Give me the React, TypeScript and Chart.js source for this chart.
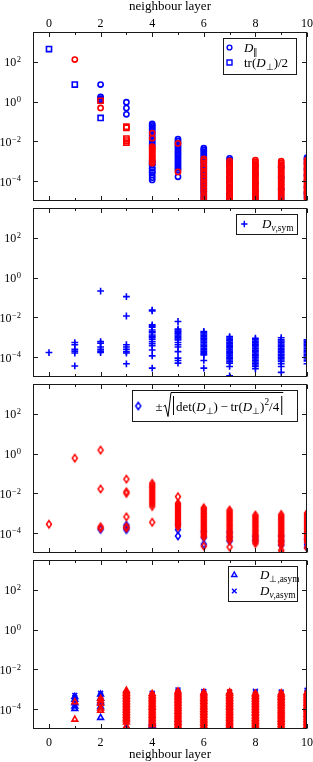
import React, { useEffect, useRef } from 'react';
import { Chart, registerables } from 'chart.js';

Chart.register(...registerables);

const W = 313;
const H = 762;
const FONT = '"Liberation Serif", "Times New Roman", serif';
const BLUE = '#0000ff';
const RED = '#ff0000';
const FRAME = '#1a1a1a';

// ---------- axes ----------
const LAYERS = [0, 1, 2, 3, 4, 5, 6, 7, 8, 9, 10];
const X_TICKS = [0, 1, 2, 3, 4, 5, 6, 7, 8, 9, 10];
const X_TICK_LABELS = ['0', '', '2', '', '4', '', '6', '', '8', '', '10'];
const Y_TICKS = [1e-4, 1e-2, 1, 1e2];
const Y_TICK_EXP = ['\u22124', '\u22122', '0', '2'];
const AXIS_TITLE = 'neighbour layer';
const X_MIN = -0.62;
const X_MAX = 10;
const Y_MIN = 1e-5;
const Y_MAX = 3162;

// ---------- panel 1: D_par (circles) and tr(D_perp)/2 (squares) ----------
const dParBlue: number[][] = [
  [],
  [],
  [7.2, 1.7, 1.4],
  [0.93, 0.47, 0.23],
  [7.6e-2, 6.4e-2, 5.5e-2, 4.5e-2, 3.7e-2, 3.0e-2, 2.4e-2, 1.9e-2, 1.5e-2, 1.2e-2, 9.5e-3, 7.4e-3, 5.8e-3, 6.5e-4, 4.4e-4, 2.8e-4, 2.0e-4, 1.5e-4, 1.15e-4],
  [1.3e-2, 1.05e-2, 8.4e-3, 6.6e-3, 5.3e-3, 4.3e-3, 3.4e-3, 2.7e-3, 2.2e-3, 1.75e-3, 1.4e-3, 1.1e-3, 8.8e-4, 7e-4, 5.6e-4, 4.5e-4, 3.6e-4, 1.65e-4],
  [4.5e-3, 3.7e-3, 3.0e-3, 2.4e-3, 1.9e-3, 1.5e-3, 1.2e-3, 9.6e-4, 7.7e-4, 6.1e-4, 4.9e-4, 3.9e-4, 3.1e-4, 2.5e-4, 2e-4, 1.6e-4, 1.25e-4, 1e-4, 8e-5, 6.3e-5, 5e-5, 4e-5, 3.2e-5, 2.5e-5, 1.8e-5, 1.3e-5],
  [1.4e-3, 1.15e-3, 9e-4, 5.5e-4, 3e-4, 1.6e-4, 8.5e-5, 4.5e-5, 2.4e-5, 1.8e-5, 1.2e-5],
  [6e-4, 2.4e-4, 8e-5, 3.2e-5, 1.6e-5, 1.1e-5],
  [5e-4, 1.5e-4, 4e-5, 1.35e-5],
  [1.5e-3, 1.25e-3, 8e-4, 4e-4, 2e-4, 1e-4, 5e-5, 2.6e-5, 2e-5, 1.4e-5],
];
const dParRed: number[][] = [
  [],
  [130],
  [0.48],
  [],
  [2.6e-2, 1.45e-2, 5.4e-3, 4.6e-3, 3.9e-3, 3.3e-3, 2.8e-3, 2.3e-3, 1.95e-3, 1.65e-3, 1.4e-3, 1.15e-3, 9.5e-4, 8e-4],
  [7.9e-3, 2.9e-4],
  [1.3e-3, 1.05e-3, 8e-4, 5.6e-4, 4.3e-4, 3.1e-4, 2.3e-4, 1.6e-4, 1.2e-4, 8.5e-5, 6.2e-5, 4.3e-5, 3.1e-5, 2.1e-5, 1.5e-5, 1.05e-5],
  [1.05e-3, 8.8e-4, 7.2e-4, 5.9e-4, 4.8e-4, 3.9e-4, 3.2e-4, 2.6e-4, 2.1e-4, 1.7e-4, 1.4e-4, 1.15e-4, 9.2e-5, 7.5e-5, 6.1e-5, 5e-5, 4e-5, 3.3e-5, 2.7e-5, 2.2e-5, 1.8e-5, 1.45e-5, 1.2e-5],
  [1.15e-3, 9.5e-4, 7.7e-4, 6.3e-4, 5.1e-4, 4.2e-4, 3.4e-4, 2.8e-4, 2.2e-4, 1.8e-4, 1.5e-4, 1.2e-4, 9.8e-5, 8e-5, 6.5e-5, 5.3e-5, 4.3e-5, 3.5e-5, 2.8e-5, 2.3e-5, 1.9e-5, 1.5e-5, 1.2e-5],
  [1e-3, 8.2e-4, 6.7e-4, 5.5e-4, 4.4e-4, 3.6e-4, 2.9e-4, 2.4e-4, 1.95e-4, 1.6e-4, 1.3e-4, 1.05e-4, 8.6e-5, 7e-5, 5.7e-5, 4.6e-5, 3.7e-5, 3e-5, 2.5e-5, 2e-5, 1.65e-5, 1.1e-5],
  [1.15e-3, 9.3e-4, 7.6e-4, 6.2e-4, 5e-4, 4.1e-4, 3.3e-4, 2.7e-4, 2.2e-4, 1.8e-4, 1.45e-4, 1.2e-4, 9.6e-5, 7.8e-5, 6.3e-5, 5.1e-5, 4.2e-5, 3.4e-5, 2.8e-5, 2.3e-5, 1.6e-5, 1.05e-5],
];
const trBlue: number[][] = [
  [440],
  [7.2],
  [1.2, 0.15],
  [],
  [8.5e-4, 3.5e-4],
  [], [], [], [], [], [],
];
const trRed: number[][] = [
  [],
  [],
  [1.1],
  [5.5e-2, 4.8e-2, 1.38e-2, 1.1e-2, 8.7e-3],
  [], [], [], [], [], [], [],
];

// ---------- panel 2: D_v,sym (plus) ----------
const dVSymBlue: number[][] = [
  [1.7e-4],
  [5.4e-4, 4.2e-4, 2.5e-4, 2.0e-4, 1.6e-4, 3.6e-5],
  [0.21, 6e-4, 5e-4, 3.2e-4, 2.5e-4, 2.0e-4, 1.7e-4],
  [0.11, 1.17e-2, 4.2e-4, 3.2e-4, 2.5e-4, 1.9e-4, 1.6e-4, 4.6e-5],
  [2.3e-2, 2.1e-2, 4.2e-3, 3.6e-3, 3.2e-3, 2.3e-3, 1.9e-3, 1.7e-3, 1.3e-3, 1.1e-3, 1e-3, 8e-4, 6e-4, 4.7e-4, 3.7e-4, 2.3e-4, 1.15e-4, 2.8e-5],
  [6.2e-3, 2.6e-3, 2.3e-3, 2.0e-3, 1.75e-3, 1.5e-3, 1.3e-3, 1.1e-3, 9.5e-4, 8.2e-4, 7.2e-4, 5.4e-4, 4.2e-4, 3.2e-4, 1.9e-4, 8.9e-5, 6.8e-5, 5e-5],
  [1.95e-3, 1.7e-3, 1.45e-3, 1.25e-3, 1.05e-3, 9e-4, 7.6e-4, 6.5e-4, 5.5e-4, 4.6e-4, 3.9e-4, 3.3e-4, 2.8e-4, 2.35e-4, 2e-4, 1.7e-4, 1.45e-4, 1.28e-4, 6.8e-5, 2.8e-5],
  [1.07e-3, 9.2e-4, 7.8e-4, 6.6e-4, 5.6e-4, 4.7e-4, 4e-4, 3.4e-4, 2.9e-4, 2.4e-4, 2e-4, 1.7e-4, 1.45e-4, 1.2e-4, 1e-4, 8.6e-5, 7.2e-5, 6e-5, 5e-5, 3.4e-5, 1.15e-5],
  [8.9e-4, 7.5e-4, 6.3e-4, 5.3e-4, 4.5e-4, 3.8e-4, 3.2e-4, 2.7e-4, 2.25e-4, 1.9e-4, 1.6e-4, 1.35e-4, 1.15e-4, 9.6e-5, 8.1e-5, 6.8e-5, 5.7e-5, 4.8e-5, 4e-5, 3.4e-5, 2.6e-5],
  [9.5e-4, 7.5e-4, 6.5e-4, 5.5e-4, 4.6e-4, 3.9e-4, 3.3e-4, 2.8e-4, 2.35e-4, 2e-4, 1.65e-4, 1.4e-4, 1.2e-4, 1e-4, 8.5e-5, 7.2e-5, 6e-5, 4.6e-5, 3.4e-5, 1.7e-5],
  [7.4e-4, 6.3e-4, 5.3e-4, 4.5e-4, 3.8e-4, 3.2e-4, 2.7e-4, 2.25e-4, 1.9e-4, 1.6e-4, 1.35e-4, 1.15e-4, 9.6e-5, 8e-5, 6.5e-5, 4.6e-5],
];

// ---------- panel 3: ±sqrt|det - tr^2/4| (diamonds) ----------
const detBlue: number[][] = [
  [],
  [],
  [1.55e-4],
  [2.5e-4, 1.9e-4, 1.5e-4],
  [],
  [2.8e-4, 1.5e-4, 7.2e-5],
  [1.2e-4, 6e-5, 2.75e-5],
  [1.1e-4, 6.5e-5, 4e-5],
  [7e-5, 4.4e-5],
  [7.2e-5, 4e-5, 2.5e-5],
  [5e-5, 2.7e-5, 1.9e-5],
];
const detRed: number[][] = [
  [2.8e-4],
  [0.59],
  [1.5, 1.66e-2, 2.1e-4, 1.75e-4],
  [5.2e-2, 1.2e-2, 1e-2, 6.6e-4, 2.1e-4, 1.8e-4],
  [3.2e-2, 2.6e-2, 2.1e-2, 1.7e-2, 1.35e-2, 1.1e-2, 8.8e-3, 7e-3, 5.6e-3, 4.5e-3, 3.6e-3, 2.9e-3, 2.2e-3, 3.5e-4],
  [6.8e-3, 3.2e-3, 2.7e-3, 2.3e-3, 1.9e-3, 1.6e-3, 1.35e-3, 1.1e-3, 9.3e-4, 7.8e-4, 6.5e-4, 5.4e-4, 4.5e-4, 3.8e-4, 3.2e-4, 2.6e-4, 2.1e-4],
  [1.9e-3, 1.6e-3, 1.35e-3, 1.1e-3, 9.3e-4, 7.8e-4, 6.5e-4, 5.4e-4, 4.5e-4, 3.8e-4, 3.2e-4, 2.6e-4, 2.2e-4, 1.85e-4, 1.55e-4, 1.3e-4, 1.1e-4, 9e-5, 7.5e-5, 6.5e-5, 2.2e-5],
  [1.45e-3, 1.2e-3, 1e-3, 8.5e-4, 7.1e-4, 5.9e-4, 4.9e-4, 4.1e-4, 3.4e-4, 2.8e-4, 2.35e-4, 1.95e-4, 1.6e-4, 1.35e-4, 1.1e-4, 9.3e-5, 7.7e-5, 6.4e-5, 5.3e-5, 4.5e-5, 2e-5],
  [8.1e-4, 6.8e-4, 5.7e-4, 4.7e-4, 3.9e-4, 3.3e-4, 2.7e-4, 2.25e-4, 1.9e-4, 1.55e-4, 1.3e-4, 1.1e-4, 9e-5, 7.5e-5, 6.2e-5, 5.2e-5, 4.3e-5, 3.6e-5, 3e-5],
  [8.7e-4, 7.2e-4, 6e-4, 5e-4, 4.2e-4, 3.5e-4, 2.9e-4, 2.4e-4, 2e-4, 1.65e-4, 1.4e-4, 1.15e-4, 9.6e-5, 8e-5, 6.6e-5, 5.5e-5, 4.6e-5, 3.8e-5, 3.2e-5, 2.5e-5, 1.4e-5, 1.05e-5],
  [1e-3, 8.4e-4, 7e-4, 5.8e-4, 4.8e-4, 4e-4, 3.3e-4, 2.75e-4, 2.3e-4, 1.9e-4, 1.6e-4, 1.3e-4, 1.1e-4, 9e-5, 7.5e-5, 6.2e-5, 5.2e-5, 4.3e-5, 3.6e-5, 1.85e-5],
];

// ---------- panel 4: D_perp,asym (triangles) and D_v,asym (x) ----------
const perpAsymBlue: number[][] = [
  [],
  [4.2e-4, 3e-4, 2e-4, 1.4e-4, 1.05e-4],
  [5.5e-4, 3.5e-4, 2.2e-4, 1.3e-4, 3.7e-5],
  [1.2e-5],
  [2e-5, 1.5e-5],
  [1.1e-5],
  [1.2e-5],
  [],
  [1.1e-5],
  [],
  [1.3e-5],
];
const vAsymBlue: number[][] = [
  [],
  [4.9e-4, 3.8e-4, 2.6e-4, 1.5e-4],
  [6.3e-4, 5e-4, 4e-4, 2.6e-4, 1.6e-4, 1.2e-4],
  [6.5e-4, 5.4e-4, 3.3e-4, 2.4e-4],
  [6.3e-4, 5e-4, 1e-4, 2.4e-5],
  [9.3e-4, 7.6e-4, 6e-4, 4e-4, 1e-4, 2e-5, 1.1e-5],
  [7.8e-4, 6.5e-4, 4e-4, 8e-5, 1.3e-5],
  [6.8e-4, 3e-4, 4e-5, 1.2e-5],
  [8e-4, 6.5e-4, 3e-4, 6e-5, 1.2e-5],
  [7.2e-4, 5e-4, 1.5e-4, 1.5e-5],
  [9e-4, 7.2e-4, 4e-4, 9e-5, 1.6e-5],
];
const perpAsymRed: number[][] = [
  [],
  [2.3e-4, 3e-5],
  [3.4e-4, 2.6e-4, 1.9e-4, 1.1e-4, 8.5e-5],
  [8.7e-4, 7.3e-4, 6.1e-4, 5.1e-4, 4.3e-4, 3.6e-4, 3e-4, 2.5e-4, 2.1e-4, 1.75e-4, 1.45e-4, 1.2e-4, 1e-4, 8.5e-5, 7e-5, 5.8e-5, 4.8e-5, 4e-5, 3.3e-5, 2.8e-5, 2.2e-5, 1.35e-5],
  [6e-4, 5e-4, 4.2e-4, 3.5e-4, 2.9e-4, 2.45e-4, 2e-4, 1.7e-4, 1.4e-4, 1.2e-4, 1e-4, 8.2e-5, 6.9e-5, 5.7e-5, 4.8e-5, 4e-5, 3.3e-5, 2.8e-5, 2.3e-5, 1.9e-5, 1.6e-5],
  [8e-4, 6.7e-4, 5.6e-4, 4.6e-4, 3.9e-4, 3.2e-4, 2.7e-4, 2.25e-4, 1.9e-4, 1.55e-4, 1.3e-4, 1.1e-4, 9e-5, 7.5e-5, 6.3e-5, 5.2e-5, 4.4e-5, 3.6e-5, 3e-5, 2.5e-5, 2.1e-5, 1.75e-5, 1.45e-5, 1.2e-5],
  [7e-4, 5.9e-4, 4.9e-4, 4.1e-4, 3.4e-4, 2.85e-4, 2.4e-4, 2e-4, 1.65e-4, 1.4e-4, 1.15e-4, 9.6e-5, 8e-5, 6.7e-5, 5.6e-5, 4.7e-5, 3.9e-5, 3.2e-5, 2.7e-5, 2.25e-5, 1.9e-5, 1.55e-5, 1.3e-5, 1.05e-5],
  [7.2e-4, 6e-4, 5e-4, 4.2e-4, 3.5e-4, 2.9e-4, 2.4e-4, 2e-4, 1.7e-4, 1.4e-4, 1.2e-4, 1e-4, 8.3e-5, 6.9e-5, 5.8e-5, 4.8e-5, 4e-5, 3.4e-5, 2.8e-5, 2.3e-5, 1.95e-5, 1.6e-5, 1.35e-5, 1.1e-5],
  [6.2e-4, 5.2e-4, 4.3e-4, 3.6e-4, 3e-4, 2.5e-4, 2.1e-4, 1.75e-4, 1.45e-4, 1.2e-4, 1e-4, 8.5e-5, 7e-5, 5.9e-5, 4.9e-5, 4.1e-5, 3.4e-5, 2.9e-5, 2.4e-5, 2e-5, 1.65e-5, 1.4e-5, 1.15e-5],
  [6.5e-4, 5.4e-4, 4.5e-4, 3.8e-4, 3.2e-4, 2.6e-4, 2.2e-4, 1.85e-4, 1.55e-4, 1.3e-4, 1.05e-4, 8.8e-5, 7.4e-5, 6.2e-5, 5.1e-5, 4.3e-5, 3.6e-5, 3e-5, 2.5e-5, 2.1e-5, 1.7e-5, 1.4e-5, 1.1e-5],
  [6.8e-4, 5.7e-4, 4.7e-4, 3.9e-4, 3.3e-4, 2.75e-4, 2.3e-4, 1.9e-4, 1.6e-4, 1.35e-4, 1.1e-4, 9.2e-5, 7.7e-5, 6.4e-5, 5.4e-5, 4.5e-5, 3.7e-5, 3.1e-5, 2.6e-5, 2.2e-5, 1.8e-5, 1.5e-5, 1.2e-5],
];
const vAsymRed: number[][] = [
  [],
  [],
  [3e-4],
  [6.2e-4, 2.3e-4, 7.5e-5, 2.5e-5],
  [5.3e-4, 1.8e-4, 6e-5, 2e-5],
  [7e-4, 2.4e-4, 8e-5, 2.6e-5],
  [6e-4, 2e-4, 7e-5, 2.3e-5],
  [7.5e-4, 2.6e-4, 9e-5, 3e-5],
  [5.5e-4, 1.9e-4, 6.5e-5, 2.1e-5],
  [6e-4, 2.1e-4, 7e-5, 2.3e-5],
  [6.2e-4, 2.2e-4, 7.5e-5, 2.5e-5],
];

// ---------- helpers ----------
function toPoints(cols: number[][]) {
  return cols.flatMap((vals, i) => vals.map((v) => ({ x: LAYERS[i], y: v })));
}

const MARK_LW = 1.6;

const diamondCache: Record<string, HTMLCanvasElement> = {};
function diamondImage(color: string): HTMLCanvasElement {
  if (diamondCache[color]) return diamondCache[color];
  const c = document.createElement('canvas');
  c.width = 10;
  c.height = 12;
  const g = c.getContext('2d')!;
  g.strokeStyle = color;
  g.lineWidth = 1.5;
  g.beginPath();
  g.moveTo(5, 2.4);
  g.lineTo(7.5, 6);
  g.lineTo(5, 9.6);
  g.lineTo(2.5, 6);
  g.closePath();
  g.stroke();
  diamondCache[color] = c;
  return c;
}

type MarkerKind = 'circle' | 'rect' | 'cross' | 'crossRot' | 'triangle' | 'diamond';

function styleFor(kind: MarkerKind, color: string): any {
  switch (kind) {
    case 'circle':
      return { pointStyle: 'circle', pointRadius: 2.6 };
    case 'rect':
      return { pointStyle: 'rect', pointRadius: 3.6 };
    case 'cross':
      return { pointStyle: 'cross', pointRadius: 3.4 };
    case 'crossRot':
      return { pointStyle: 'crossRot', pointRadius: 3.4 };
    case 'triangle':
      return { pointStyle: 'triangle', pointRadius: 3.3 };
    case 'diamond':
      return { pointStyle: diamondImage(color), pointRadius: 4 };
  }
}

function drawMarker(ctx: CanvasRenderingContext2D, kind: MarkerKind, x: number, y: number, color: string) {
  if (kind === 'diamond') {
    const img = diamondImage(color);
    ctx.drawImage(img, x - img.width / 2, y - img.height / 2);
    return;
  }
  ctx.save();
  ctx.strokeStyle = color;
  ctx.lineWidth = 1.4;
  ctx.beginPath();
  if (kind === 'circle') ctx.arc(x, y, 2.4, 0, Math.PI * 2);
  else if (kind === 'rect') ctx.rect(x - 2.5, y - 2.5, 5, 5);
  else if (kind === 'cross') {
    ctx.moveTo(x - 3.2, y);
    ctx.lineTo(x + 3.2, y);
    ctx.moveTo(x, y - 3.2);
    ctx.lineTo(x, y + 3.2);
  } else if (kind === 'crossRot') {
    const d = 2.3;
    ctx.moveTo(x - d, y - d);
    ctx.lineTo(x + d, y + d);
    ctx.moveTo(x + d, y - d);
    ctx.lineTo(x - d, y + d);
  } else if (kind === 'triangle') {
    const r = 3;
    ctx.moveTo(x, y - r);
    ctx.lineTo(x + r * Math.sin((2 * Math.PI) / 3), y - r * Math.cos((2 * Math.PI) / 3));
    ctx.lineTo(x + r * Math.sin((4 * Math.PI) / 3), y - r * Math.cos((4 * Math.PI) / 3));
    ctx.closePath();
  }
  ctx.stroke();
  ctx.restore();
}

type Seg = { t: string; it?: boolean; sub?: boolean; sup?: boolean };
const LEG_SIZE = 13;
function segFont(s: Seg, size: number) {
  const fs = s.sub || s.sup ? size * 0.72 : size;
  return `${s.it ? 'italic ' : ''}${fs}px ${FONT}`;
}
function richWidth(ctx: CanvasRenderingContext2D, segs: Seg[], size = LEG_SIZE) {
  let w = 0;
  for (const s of segs) {
    ctx.font = segFont(s, size);
    w += ctx.measureText(s.t).width;
  }
  return w;
}
function drawRich(ctx: CanvasRenderingContext2D, x: number, y: number, segs: Seg[], size = LEG_SIZE) {
  let cx = x;
  ctx.textAlign = 'left';
  ctx.textBaseline = 'alphabetic';
  for (const s of segs) {
    ctx.font = segFont(s, size);
    const dy = s.sub ? size * 0.24 : s.sup ? -size * 0.42 : 0;
    ctx.fillText(s.t, cx, y + dy);
    cx += ctx.measureText(s.t).width;
  }
  return cx;
}

function legendBox(ctx: CanvasRenderingContext2D, x0: number, y0: number, x1: number, y1: number) {
  ctx.save();
  ctx.fillStyle = '#ffffff';
  ctx.fillRect(x0, y0, x1 - x0, y1 - y0);
  ctx.strokeStyle = FRAME;
  ctx.lineWidth = 1;
  ctx.strokeRect(Math.round(x0) + 0.5, Math.round(y0) + 0.5, Math.round(x1 - x0), Math.round(y1 - y0));
  ctx.restore();
}

function line(ctx: CanvasRenderingContext2D, x0: number, y0: number, x1: number, y1: number) {
  ctx.beginPath();
  ctx.moveTo(x0, y0);
  ctx.lineTo(x1, y1);
  ctx.stroke();
}

// ---------- legends ----------
function legend1(ctx: CanvasRenderingContext2D) {
  legendBox(ctx, 223, 38, 296, 74);
  ctx.fillStyle = '#000';
  drawMarker(ctx, 'circle', 229.5, 47.5, BLUE);
  drawRich(ctx, 244, 51.5, [{ t: 'D', it: true }, { t: '\u2225', sub: true }]);
  drawMarker(ctx, 'rect', 229.5, 62.5, BLUE);
  drawRich(ctx, 244, 66.5, [{ t: 'tr(' }, { t: 'D', it: true }, { t: '\u22a5', sub: true }, { t: ')/2' }]);
}
function legend2(ctx: CanvasRenderingContext2D) {
  legendBox(ctx, 236, 214, 297, 234);
  ctx.fillStyle = '#000';
  drawMarker(ctx, 'cross', 244.3, 224, BLUE);
  drawRich(ctx, 262, 228, [{ t: 'D', it: true }, { t: 'v', it: true, sub: true }, { t: ',sym', sub: true }]);
}
function legend3(ctx: CanvasRenderingContext2D) {
  legendBox(ctx, 132, 390, 297, 421);
  ctx.fillStyle = '#000';
  drawMarker(ctx, 'diamond', 138.3, 406, BLUE);
  const base = 410.5;
  drawRich(ctx, 155.5, base, [{ t: '\u00b1' }]);
  const inner: Seg[] = [
    { t: 'det(' },
    { t: 'D', it: true },
    { t: '\u22a5', sub: true },
    { t: ')\u2009\u2212\u2009tr(' },
    { t: 'D', it: true },
    { t: '\u22a5', sub: true },
    { t: ')' },
    { t: '2', sup: true },
    { t: '/4' },
  ];
  const iw = richWidth(ctx, inner);
  const x0 = 172;
  ctx.save();
  ctx.strokeStyle = '#000';
  ctx.lineWidth = 1;
  // radical sign
  ctx.beginPath();
  ctx.moveTo(163.5, 406.5);
  ctx.lineTo(165.3, 405.2);
  ctx.lineTo(168, 416.5);
  ctx.lineTo(171, 392.5);
  ctx.lineTo(x0 + 4 + iw + 4, 392.5);
  ctx.stroke();
  // absolute value bars
  line(ctx, x0 + 1.5, 396, x0 + 1.5, 415);
  line(ctx, x0 + 4 + iw + 2.5, 396, x0 + 4 + iw + 2.5, 415);
  ctx.restore();
  drawRich(ctx, x0 + 4, base, inner);
}
function legend4(ctx: CanvasRenderingContext2D) {
  legendBox(ctx, 228, 566, 297, 601);
  ctx.fillStyle = '#000';
  drawMarker(ctx, 'triangle', 234.3, 575, BLUE);
  drawRich(ctx, 260, 579, [{ t: 'D', it: true }, { t: '\u22a5,asym', sub: true }]);
  drawMarker(ctx, 'crossRot', 234.3, 591, BLUE);
  drawRich(ctx, 260, 595, [{ t: 'D', it: true }, { t: 'v', it: true, sub: true }, { t: ',asym', sub: true }]);
}

// ---------- panels ----------
type Series = { label: string; cols: number[][]; kind: MarkerKind; color: string };
type Panel = { top: number; series: Series[]; legend: (ctx: CanvasRenderingContext2D) => void; axis: 'top' | 'bottom' | 'none' };

const PANEL_H = 169;
const PLOT_LEFT = 33;
const PLOT_RIGHT = 307;

const PANELS: Panel[] = [
  {
    top: 32,
    axis: 'top',
    legend: legend1,
    series: [
      { label: 'D_par (blue)', cols: dParBlue, kind: 'circle', color: BLUE },
      { label: 'tr(D_perp)/2 (blue)', cols: trBlue, kind: 'rect', color: BLUE },
      { label: 'D_par (red)', cols: dParRed, kind: 'circle', color: RED },
      { label: 'tr(D_perp)/2 (red)', cols: trRed, kind: 'rect', color: RED },
    ],
  },
  {
    top: 208,
    axis: 'none',
    legend: legend2,
    series: [{ label: 'D_v,sym', cols: dVSymBlue, kind: 'cross', color: BLUE }],
  },
  {
    top: 384,
    axis: 'none',
    legend: legend3,
    series: [
      { label: 'sqrt (blue)', cols: detBlue, kind: 'diamond', color: BLUE },
      { label: 'sqrt (red)', cols: detRed, kind: 'diamond', color: RED },
    ],
  },
  {
    top: 560,
    axis: 'bottom',
    legend: legend4,
    series: [
      { label: 'D_perp,asym (blue)', cols: perpAsymBlue, kind: 'triangle', color: BLUE },
      { label: 'D_v,asym (blue)', cols: vAsymBlue, kind: 'crossRot', color: BLUE },
      { label: 'D_perp,asym (red)', cols: perpAsymRed, kind: 'triangle', color: RED },
      { label: 'D_v,asym (red)', cols: vAsymRed, kind: 'crossRot', color: RED },
    ],
  },
];

function decorate(chart: any, panel: Panel) {
  const ctx: CanvasRenderingContext2D = chart.ctx;
  const a = chart.chartArea;
  const xs = chart.scales.x;
  const ys = chart.scales.y;
  ctx.save();
  ctx.strokeStyle = FRAME;
  ctx.lineWidth = 1;
  const L = Math.round(a.left) + 0.5;
  const R = Math.round(a.right) - 0.5;
  const T = Math.round(a.top) + 0.5;
  const B = Math.round(a.bottom) - 0.5;
  ctx.strokeRect(L, T, R - L, B - T);
  X_TICKS.forEach((v, i) => {
    const px = Math.round(xs.getPixelForValue(v)) + 0.5;
    const len = X_TICK_LABELS[i] ? 4.5 : 2.5;
    line(ctx, px, T, px, T + len);
    line(ctx, px, B, px, B - len);
  });
  Y_TICKS.forEach((v) => {
    const py = Math.round(ys.getPixelForValue(v)) + 0.5;
    line(ctx, L, py, L + 4.5, py);
    line(ctx, R, py, R - 4.5, py);
  });

  ctx.fillStyle = '#000';
  ctx.textBaseline = 'alphabetic';
  ctx.textAlign = 'left';
  Y_TICKS.forEach((v, i) => {
    const py = ys.getPixelForValue(v);
    const exp = Y_TICK_EXP[i];
    ctx.font = `8.5px ${FONT}`;
    const ew = ctx.measureText(exp).width;
    ctx.font = `12px ${FONT}`;
    const bw = ctx.measureText('10').width;
    const right = 21;
    ctx.fillText('10', right - ew - bw - 0.5, py + 4.5);
    ctx.font = `8.5px ${FONT}`;
    ctx.fillText(exp, right - ew, py + 0.3);
  });

  if (panel.axis !== 'none') {
    const labY = panel.axis === 'top' ? 26.5 : 746;
    const titleY = panel.axis === 'top' ? 10 : 757.5;
    ctx.textAlign = 'center';
    ctx.font = `12px ${FONT}`;
    X_TICKS.forEach((v, i) => {
      if (!X_TICK_LABELS[i]) return;
      ctx.fillText(X_TICK_LABELS[i], xs.getPixelForValue(v), labY);
    });
    ctx.font = `13px ${FONT}`;
    ctx.fillText(AXIS_TITLE, (a.left + a.right) / 2, titleY);
  }
  panel.legend(ctx);
  ctx.restore();
}

function buildConfig(panel: Panel): any {
  const n = panel.series.length;
  return {
    type: 'scatter',
    data: {
      datasets: panel.series.map((s, i) => ({
        label: s.label,
        data: toPoints(s.cols),
        borderColor: s.color,
        backgroundColor: 'rgba(0,0,0,0)',
        pointBorderWidth: MARK_LW,
        showLine: false,
        clip: 0,
        order: n - i,
        ...styleFor(s.kind, s.color),
      })),
    },
    options: {
      animation: false,
      responsive: false,
      events: [],
      layout: {
        padding: { left: PLOT_LEFT, right: W - PLOT_RIGHT, top: panel.top, bottom: H - (panel.top + PANEL_H) },
      },
      scales: {
        x: { type: 'linear', min: X_MIN, max: X_MAX, display: false },
        y: { type: 'logarithmic', min: Y_MIN, max: Y_MAX, display: false },
      },
      plugins: { legend: { display: false }, tooltip: { enabled: false }, title: { display: false } },
    },
    plugins: [{ id: 'deco' + panel.top, afterDraw: (chart: any) => decorate(chart, panel) }],
  };
}

export default function App() {
  const r0 = useRef<HTMLCanvasElement>(null);
  const r1 = useRef<HTMLCanvasElement>(null);
  const r2 = useRef<HTMLCanvasElement>(null);
  const r3 = useRef<HTMLCanvasElement>(null);
  const refs = [r0, r1, r2, r3];

  useEffect(() => {
    const charts = PANELS.map((p, i) => new Chart(refs[i].current as HTMLCanvasElement, buildConfig(p)));
    return () => charts.forEach((c) => c.destroy());
  }, []);

  return (
    <div style={{ position: 'absolute', left: 0, top: 0, width: W, height: H, background: '#ffffff' }}>
      {refs.map((r, i) => (
        <canvas
          key={i}
          ref={r}
          width={W}
          height={H}
          style={{ position: 'absolute', left: 0, top: 0, width: W, height: H }}
        />
      ))}
    </div>
  );
}
